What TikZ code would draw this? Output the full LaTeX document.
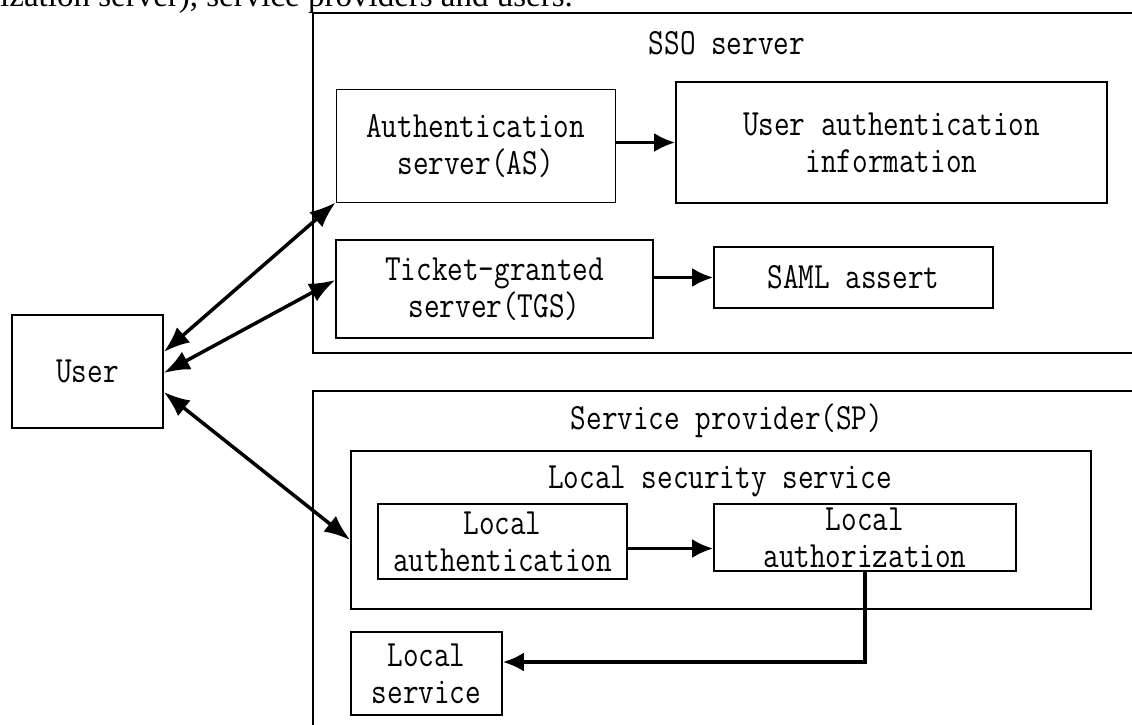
\documentclass[tikz,border=0pt]{standalone}
\usepackage{fontspec}
\setmainfont{Liberation Serif}
\newfontfamily\boxfont[FakeStretch=0.82]{Latin Modern Mono}
\usetikzlibrary{arrows.meta,positioning}

\begin{document}
\begin{tikzpicture}[
  x=1pt, y=-1pt,
  box/.style={draw, line width=1.6pt, align=center, inner sep=0pt,
              font=\boxfont\fontsize{37}{37}\selectfont},
  thinbox/.style={box, line width=0.9pt},
  frame/.style={draw, line width=1.6pt, inner sep=0pt},
  caption/.style={inner sep=0pt, font=\boxfont\fontsize{37}{37}\selectfont},
  arrow/.style={-{Latex[length=21pt,width=19pt]}, line width=3.5pt},
  twoway/.style={{Latex[length=26pt,width=20pt]}-{Latex[length=26pt,width=20pt]}, line width=3.5pt}
]
\useasboundingbox (0,0) rectangle (1132,724);
\node[anchor=base west, inner sep=0pt, font=\fontsize{33}{36}\selectfont] (intro) at (0,6)
  {ization server), service providers and users.};
% containers
\node[frame, minimum width=837pt, minimum height=340pt] (sso) at (731.5,183) {};
\node[caption] (ssotitle) at (727,43) {SSO server};
\node[frame, minimum width=837pt, minimum height=369pt] (sp) at (731.5,575.5) {};
\node[caption] (sptitle) at (727,421) {Service provider(SP)};
\node[frame, minimum width=740pt, minimum height=158pt] (lss) at (721,530) {};
\node[caption] (lsstitle) at (720,481) {Local security service};
% boxes
\node[box, minimum width=151pt, minimum height=113pt] (user) at (87.5,371.5) {User};
\node[thinbox, minimum width=279pt, minimum height=113pt] (as) at (475.5,145.5) {Authentication\\server(AS)};
\node[box, minimum width=431pt, minimum height=121pt] (uai) at (891.5,142.5) {User authentication\\information};
\node[box, minimum width=317pt, minimum height=98pt] (tgs) at (494.5,289) {Ticket-granted\\server(TGS)};
\node[box, minimum width=279pt, minimum height=61pt] (saml) at (853.5,277.5) {SAML assert};
\node[box, minimum width=249pt, minimum height=75pt] (la) at (502.5,541.5) {Local\\authentication};
\node[box, minimum width=302pt, minimum height=67pt] (laz) at (865,537.5) {Local\\authorization};
\node[box, minimum width=151pt, minimum height=83pt] (ls) at (426.5,673.5) {Local\\service};
% connectors
\draw[arrow] (as.east |- uai.west) -- (uai.west);
\draw[arrow] (tgs.east |- saml.west) -- (saml.west);
\draw[twoway] ([yshift=19.5pt]user.east) -- (as.south west);
\draw[twoway] ([yshift=-1.5pt]user.east) -- ([yshift=9pt]tgs.west);
\draw[twoway] ([yshift=-20.5pt]user.east) -- ([yshift=-10pt]lss.west);
\coordinate (laout) at ([yshift=-7pt]la.east);
\draw[arrow] (laout) -- (laout -| laz.west);
\draw[arrow] (laz.south) |- ([yshift=11.5pt]ls.east);
\end{tikzpicture}
\end{document}
